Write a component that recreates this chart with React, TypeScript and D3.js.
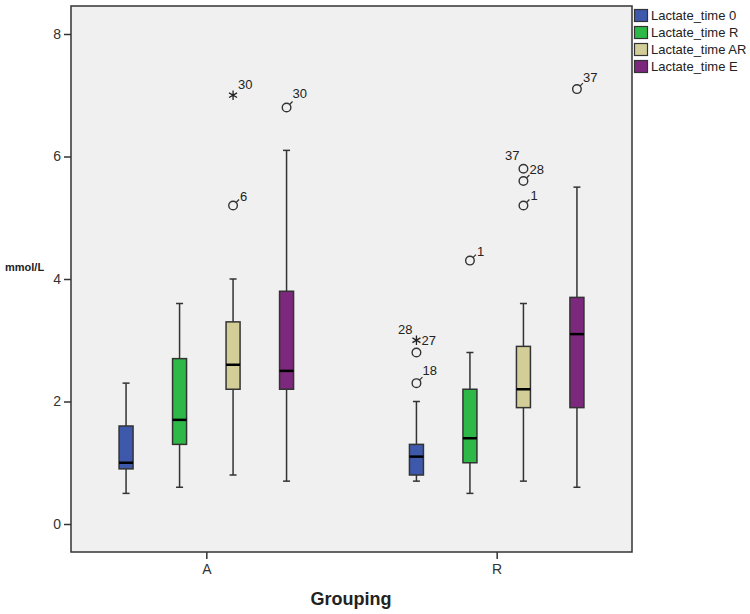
import React, { useEffect, useRef } from 'react';
import * as d3 from 'd3';

// groups on the x axis and the four measurement series
const groups = ['A', 'R'];
const series = ['Lactate_time 0', 'Lactate_time R', 'Lactate_time AR', 'Lactate_time E'];
const seriesColors = ['#3e58ac', '#2eb848', '#d3ce97', '#7c287d'];
const yTicks = [0, 2, 4, 6, 8];

// five-number summaries [whiskerLow, q1, median, q3, whiskerHigh], one per group (A, R)
const time0Stats = [[0.5, 0.9, 1.0, 1.6, 2.3], [0.7, 0.8, 1.1, 1.3, 2.0]];
const timeRStats = [[0.6, 1.3, 1.7, 2.7, 3.6], [0.5, 1.0, 1.4, 2.2, 2.8]];
const timeARStats = [[0.8, 2.2, 2.6, 3.3, 4.0], [0.7, 1.9, 2.2, 2.9, 3.6]];
const timeEStats = [[0.7, 2.2, 2.5, 3.8, 6.1], [0.6, 1.9, 3.1, 3.7, 5.5]];
const allStats = [time0Stats, timeRStats, timeARStats, timeEStats];

// outliers: group, series index, value, case id, extreme (star) or not (circle)
const outlierGroup = ['A', 'A', 'A', 'R', 'R', 'R', 'R', 'R', 'R', 'R', 'R'];
const outlierSeries = [2, 2, 3, 0, 0, 0, 1, 2, 2, 2, 3];
const outlierValue = [7.0, 5.2, 6.8, 2.3, 2.8, 3.0, 4.3, 5.8, 5.6, 5.2, 7.1];
const outlierId = ['30', '6', '30', '18', '28', '27', '1', '28', '37', '1', '37'];
const outlierExtreme = [true, false, false, false, false, true, false, false, false, false, false];

const App = () => {
  const svgRef = useRef<SVGSVGElement>(null);

  useEffect(() => {
    const svg = d3.select(svgRef.current);
    svg.selectAll('*').remove();

    const width = 750;
    const height = 614;
    const plot = { left: 71, right: 632, top: 6, bottom: 552 };
    const font = '"Liberation Sans", Arial, sans-serif';

    const x = d3.scalePoint<string>()
      .domain(groups)
      .range([plot.left, plot.right])
      .padding(0.466);

    const inner = d3.scaleBand<string>()
      .domain(series)
      .range([-107, 107]);

    const y = d3.scaleLinear()
      .domain([-0.457, 8.457])
      .range([plot.bottom, plot.top]);

    svg.attr('width', width).attr('height', height);

    svg.append('rect')
      .attr('x', plot.left).attr('y', plot.top)
      .attr('width', plot.right - plot.left).attr('height', plot.bottom - plot.top)
      .attr('fill', '#f0f0f0')
      .attr('stroke', '#333').attr('stroke-width', 1.5);

    // y axis
    const yAxis = svg.append('g')
      .attr('transform', `translate(${plot.left},0)`)
      .call(d3.axisLeft(y).tickValues(yTicks).tickSize(7).tickPadding(3).tickFormat(d3.format('d')));
    yAxis.select('.domain').remove();
    yAxis.selectAll('line').attr('stroke', '#333').attr('stroke-width', 1.5);
    yAxis.selectAll('text').attr('font-family', font).attr('font-size', 14).attr('fill', '#333');

    // x axis
    const xAxis = svg.append('g')
      .attr('transform', `translate(0,${plot.bottom})`)
      .call(d3.axisBottom(x).tickSize(7).tickPadding(5));
    xAxis.select('.domain').remove();
    xAxis.selectAll('line').attr('stroke', '#333').attr('stroke-width', 1.5);
    xAxis.selectAll('text').attr('font-family', font).attr('font-size', 14).attr('fill', '#333');

    svg.append('text')
      .attr('x', 351).attr('y', 605)
      .attr('text-anchor', 'middle')
      .attr('font-family', font).attr('font-size', 18).attr('font-weight', 'bold')
      .attr('fill', '#222')
      .text('Grouping');

    svg.append('text')
      .attr('x', 5).attr('y', 271)
      .attr('font-family', font).attr('font-size', 11).attr('font-weight', 'bold')
      .attr('fill', '#222')
      .text('mmol/L');

    // boxes
    const boxW = 14;
    const capW = 7;
    allStats.forEach((stats, si) => {
      groups.forEach((g, gi) => {
        const [lo, q1, med, q3, hi] = stats[gi];
        const cx = x(g) + inner(series[si]) + inner.bandwidth() / 2;
        const grp = svg.append('g');
        grp.append('line')
          .attr('x1', cx).attr('x2', cx).attr('y1', y(hi)).attr('y2', y(lo))
          .attr('stroke', '#333').attr('stroke-width', 1.5);
        [lo, hi].forEach(v => {
          grp.append('line')
            .attr('x1', cx - capW / 2).attr('x2', cx + capW / 2)
            .attr('y1', y(v)).attr('y2', y(v))
            .attr('stroke', '#333').attr('stroke-width', 1.5);
        });
        grp.append('rect')
          .attr('x', cx - boxW / 2).attr('width', boxW)
          .attr('y', y(q3)).attr('height', y(q1) - y(q3))
          .attr('fill', seriesColors[si])
          .attr('stroke', '#333').attr('stroke-width', 1.5);
        grp.append('line')
          .attr('x1', cx - boxW / 2).attr('x2', cx + boxW / 2)
          .attr('y1', y(med)).attr('y2', y(med))
          .attr('stroke', '#000').attr('stroke-width', 2.5);
      });
    });

    // label placement per outlier (dx, dy, anchor, tail)
    const labelPlace: [number, number, string, boolean][] = [
      [5, -6, 'start', false],
      [7, -4, 'start', true],
      [6, -9, 'start', true],
      [6, -8, 'start', true],
      [-4, -19, 'end', false],
      [5, 5, 'start', false],
      [7, -5, 'start', true],
      [6, 5, 'start', false],
      [-4, -21, 'end', true],
      [7, -5, 'start', true],
      [6, -7, 'start', true],
    ];

    const star = d3.symbol().type(d3.symbolAsterisk).size(60);
    outlierValue.forEach((v, i) => {
      const cx = x(outlierGroup[i]) + inner(series[outlierSeries[i]]) + inner.bandwidth() / 2;
      const cy = y(v);
      const [dx, dy, anchor, tail] = labelPlace[i];
      if (outlierExtreme[i]) {
        svg.append('path')
          .attr('d', star())
          .attr('transform', `translate(${cx},${cy})`)
          .attr('fill', 'none').attr('stroke', '#222').attr('stroke-width', 1.3);
      } else {
        svg.append('circle')
          .attr('cx', cx).attr('cy', cy).attr('r', 4.3)
          .attr('fill', 'none').attr('stroke', '#333').attr('stroke-width', 1.4);
        if (tail) {
          svg.append('line')
            .attr('x1', cx + 3).attr('y1', cy - 3)
            .attr('x2', cx + 6).attr('y2', cy - 6)
            .attr('stroke', '#333').attr('stroke-width', 1.2);
        }
      }
      svg.append('text')
        .attr('x', cx + dx).attr('y', cy + dy)
        .attr('text-anchor', anchor)
        .attr('font-family', font).attr('font-size', 13)
        .attr('fill', '#222')
        .text(outlierId[i]);
    });

    // legend
    const legend = svg.append('g').attr('transform', 'translate(634,9)');
    series.forEach((s, i) => {
      legend.append('rect')
        .attr('x', 0.5).attr('y', i * 17 + 0.5)
        .attr('width', 13).attr('height', 12)
        .attr('fill', seriesColors[i])
        .attr('stroke', '#333').attr('stroke-width', 1.2);
      legend.append('text')
        .attr('x', 17).attr('y', i * 17 + 11)
        .attr('font-family', font).attr('font-size', 13)
        .attr('fill', '#222')
        .text(s);
    });
  }, []);

  return (
    <svg ref={svgRef} style={{ position: 'absolute', left: 0, top: 0 }}></svg>
  );
};

export default App;
